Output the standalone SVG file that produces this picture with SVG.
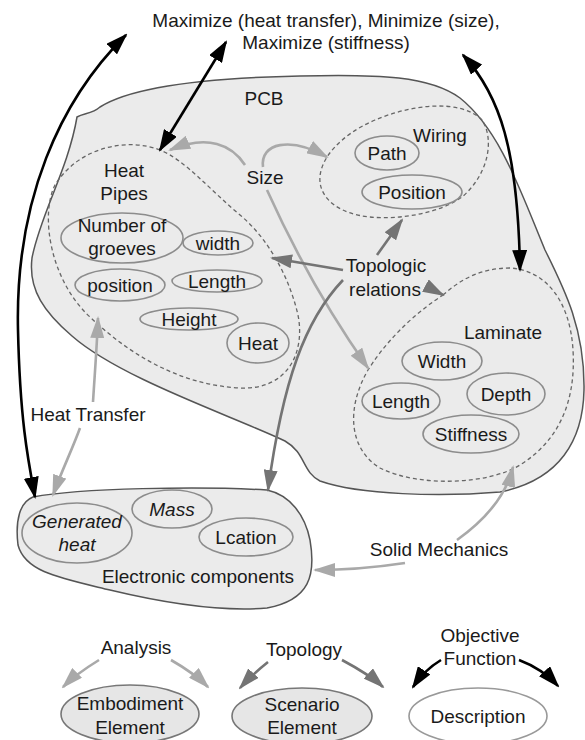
<svg xmlns="http://www.w3.org/2000/svg" width="585" height="740" viewBox="0 0 585 740">
<defs>
<style>
text{font-family:"Liberation Sans",Arial,sans-serif;font-size:19px;fill:#1a1a1a;text-anchor:middle}
.it{font-style:italic}
.reg{fill:#ebebeb;stroke:#555;stroke-width:1.5}
.dash{fill:none;stroke:#666;stroke-width:1.3;stroke-dasharray:4 3}
.el{fill:#ebebeb;stroke:#8c8c8c;stroke-width:1.6}
.blk{fill:none;stroke:#000;stroke-width:2.6}
.lg{fill:none;stroke:#a9a9a9;stroke-width:2.6}
.dg{fill:none;stroke:#747474;stroke-width:2.6}
</style>
<marker id="mb" viewBox="0 0 22 15" refX="20" refY="7.5" markerWidth="22" markerHeight="15" orient="auto-start-reverse" markerUnits="userSpaceOnUse"><path d="M0,0 L22,7.5 L0,15 Z" fill="#000"/></marker>
<marker id="ml" viewBox="0 0 22 14" refX="20" refY="7" markerWidth="22" markerHeight="14" orient="auto-start-reverse" markerUnits="userSpaceOnUse"><path d="M0,0 L22,7 L0,14 Z" fill="#a9a9a9"/></marker>
<marker id="md" viewBox="0 0 22 14" refX="20" refY="7" markerWidth="22" markerHeight="14" orient="auto-start-reverse" markerUnits="userSpaceOnUse"><path d="M0,0 L22,7 L0,14 Z" fill="#747474"/></marker>
</defs>
<rect width="585" height="740" fill="#fff"/>

<g id="title">
<text x="326" y="27">Maximize (heat transfer), Minimize (size),</text>
<text x="326" y="49">Maximize (stiffness)</text>
</g>

<g id="pcb">
<path class="reg" d="M77 117 C84 113 92 114 100 107 C130 88 200 78 300 76 C380 74 430 76 460 98 C500 130 520 190 545 250 C565 290 585 330 584 390 C583 440 560 480 500 492 C440 497 360 495 320 481 C302 472 306 453 285 441 C230 415 120 378 72 336 C45 313 28 290 32 258 C40 215 68 170 77 117 Z"/>
<text x="264" y="105">PCB</text>
</g>

<g id="heat-pipes">
<path class="dash" d="M160 150 C130 138 80 145 55 185 C40 215 50 280 90 317 C130 355 180 385 240 388 C290 390 305 350 298 315 C290 280 270 240 240 215 C210 190 185 160 160 150 Z"/>
<text x="124" y="177">Heat</text>
<text x="124" y="200">Pipes</text>
<ellipse class="el" cx="122" cy="238" rx="61" ry="25"/>
<text x="122" y="232">Number of</text>
<text x="122" y="255">groeves</text>
<ellipse class="el" cx="218" cy="243" rx="35" ry="12"/>
<text x="218" y="250">width</text>
<ellipse class="el" cx="120" cy="285" rx="45" ry="16"/>
<text x="120" y="292">position</text>
<ellipse class="el" cx="217" cy="281" rx="45" ry="11"/>
<text x="217" y="288">Length</text>
<ellipse class="el" cx="189" cy="319" rx="49" ry="11"/>
<text x="189" y="326">Height</text>
<ellipse class="el" cx="258" cy="343" rx="31" ry="20"/>
<text x="258" y="350">Heat</text>
</g>

<g id="wiring">
<path class="dash" d="M320 182 C318 160 340 135 375 120 C410 105 460 98 482 120 C495 140 488 175 462 197 C440 213 400 220 370 217 C340 214 322 200 320 182 Z"/>
<text x="440" y="142">Wiring</text>
<ellipse class="el" cx="387" cy="153" rx="32" ry="17"/>
<text x="387" y="160">Path</text>
<ellipse class="el" cx="412" cy="192" rx="50" ry="17"/>
<text x="412" y="199">Position</text>
</g>

<g id="laminate">
<path class="dash" d="M443 295 C460 280 480 268 510 268 C545 270 570 300 573 350 C576 400 560 440 520 465 C490 484 420 488 380 468 C350 450 345 410 368 370 C390 335 420 310 443 295 Z"/>
<text x="503" y="339">Laminate</text>
<ellipse class="el" cx="442" cy="361" rx="40" ry="19"/>
<text x="442" y="368">Width</text>
<ellipse class="el" cx="401" cy="401" rx="39" ry="18"/>
<text x="401" y="408">Length</text>
<ellipse class="el" cx="506" cy="394" rx="39" ry="21"/>
<text x="506" y="401">Depth</text>
<ellipse class="el" cx="471" cy="434" rx="48" ry="19"/>
<text x="471" y="441">Stiffness</text>
</g>

<g id="electronic-components">
<path class="reg" d="M33 497 C80 488 200 486 267 490 C290 495 305 515 310 540 C316 575 310 600 267 608 C220 612 160 602 110 590 C60 578 25 572 18 545 C15 520 20 502 33 497 Z"/>
<ellipse class="el" cx="77" cy="533" rx="55" ry="30"/>
<text class="it" x="77" y="528">Generated</text>
<text class="it" x="77" y="551">heat</text>
<ellipse class="el" cx="172" cy="509" rx="40" ry="19"/>
<text class="it" x="172" y="516">Mass</text>
<ellipse class="el" cx="246" cy="537" rx="47" ry="19"/>
<text x="246" y="544">Lcation</text>
<text x="198" y="583">Electronic components</text>
</g>

<g id="labels">
<text x="265" y="184">Size</text>
<text x="386" y="272">Topologic</text>
<text x="385" y="296">relations</text>
<text x="88" y="421">Heat Transfer</text>
<text x="439" y="556">Solid Mechanics</text>
</g>

<g id="connectors">
<path class="blk" marker-start="url(#mb)" marker-end="url(#mb)" d="M126 35 C60 100 15 200 18 330 C20 420 28 460 35 497"/>
<path class="blk" marker-start="url(#mb)" marker-end="url(#mb)" d="M226 42 L160 150"/>
<path class="blk" marker-start="url(#mb)" marker-end="url(#mb)" d="M463 55 C500 95 518 150 520 270"/>
<path class="lg" marker-end="url(#ml)" d="M245 165 C232 145 208 134 170 150"/>
<path class="lg" marker-end="url(#ml)" d="M263 167 C260 143 290 136 327 157"/>
<path class="lg" marker-end="url(#ml)" d="M267 190 C285 230 320 300 368 368"/>
<path class="lg" marker-end="url(#ml)" d="M93 402 C95 370 97 345 98 318"/>
<path class="lg" marker-end="url(#ml)" d="M80 428 C72 450 62 470 53 495"/>
<path class="lg" marker-end="url(#ml)" d="M457 540 C478 525 505 500 513 467"/>
<path class="lg" marker-end="url(#ml)" d="M405 563 C372 568 345 570 315 570"/>
<path class="dg" marker-end="url(#md)" d="M343 270 L272 258"/>
<path class="dg" marker-end="url(#md)" d="M377 255 L402 220"/>
<path class="dg" marker-end="url(#md)" d="M430 288 L443 295"/>
<path class="dg" marker-end="url(#md)" d="M343 280 C305 320 283 380 268 490"/>
</g>

<g id="legend-analysis">
<text x="136" y="654">Analysis</text>
<path class="lg" marker-end="url(#ml)" d="M99 660 C86 668 74 676 63 687"/>
<path class="lg" marker-end="url(#ml)" d="M171 660 C185 668 197 676 208 687"/>
<ellipse cx="130" cy="714" rx="69" ry="29" fill="#e6e6e6" stroke="#777" stroke-width="1.6"/>
<text x="130" y="710">Embodiment</text>
<text x="130" y="734">Element</text>
</g>

<g id="legend-topology">
<text x="304" y="656">Topology</text>
<path class="dg" marker-end="url(#md)" d="M268 662 C258 670 249 678 240 688"/>
<path class="dg" marker-end="url(#md)" d="M342 660 C357 668 371 676 383 687"/>
<ellipse cx="302" cy="716" rx="70" ry="28" fill="#e6e6e6" stroke="#777" stroke-width="1.6"/>
<text x="302" y="711">Scenario</text>
<text x="302" y="734">Element</text>
</g>

<g id="legend-objective">
<text x="480" y="642">Objective</text>
<text x="480" y="665">Function</text>
<path class="blk" marker-end="url(#mb)" d="M441 660 C431 666 421 675 413 687"/>
<path class="blk" marker-end="url(#mb)" d="M519 660 C535 666 548 675 558 686"/>
<ellipse cx="478" cy="716" rx="69" ry="28" fill="#fff" stroke="#999" stroke-width="1.6"/>
<text x="478" y="723">Description</text>
</g>
</svg>
